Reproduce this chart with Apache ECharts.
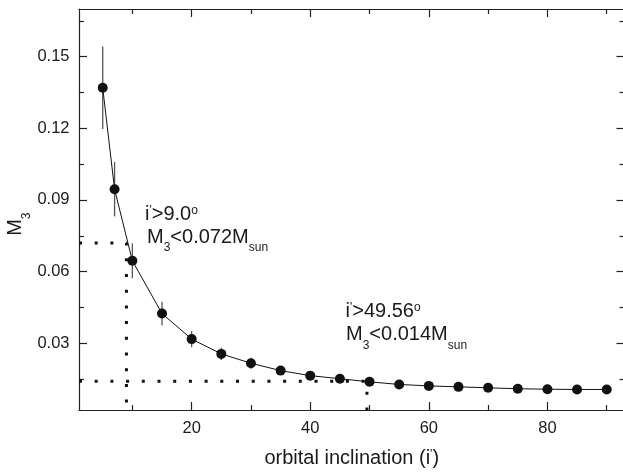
<!DOCTYPE html>
<html>
<head>
<meta charset="utf-8">
<script src="https://cdn.jsdelivr.net/npm/echarts@6/dist/echarts.min.js"></script>
<style>
  html, body { margin: 0; padding: 0; background: #fff; }
  #chart { width: 623px; height: 472px; }
</style>
</head>
<body>
<div id="chart"></div>
<script>
// Orbital inclination (deg) of each solution
const incl = [5, 7, 10, 15, 20, 25, 30, 35, 40, 45, 50, 55, 60, 65, 70, 75, 80, 85, 90];
// Third-body mass M3 (solar masses) and its 1-sigma uncertainty
const mass = [0.137, 0.0945, 0.0645, 0.0424, 0.0317, 0.0255, 0.0216, 0.0185, 0.0164, 0.0151,
              0.0138, 0.0127, 0.0121, 0.0117, 0.0113, 0.0109, 0.0107, 0.0106, 0.0106];
const massErr = [0.0173, 0.0114, 0.0073, 0.005, 0.0034, 0.0026, 0.0023, 0.0018, 0.0015, 0.0013,
                 0.0012, 0.0011, 0.001, 0.001, 0.0009, 0.0009, 0.0009, 0.0008, 0.0008];

// Limits quoted in the annotations
const limitIncl = [9.0, 49.56];
const limitMass = [0.072, 0.014];

// Axis ranges and ticks
const X_MIN = 1, X_MAX = 93;
const Y_MIN = 0.002, Y_MAX = 0.17;
const xMajor = [20, 40, 60, 80];
const xMinor = [10, 30, 50, 70, 90];
const yMajor = [0.03, 0.06, 0.09, 0.12, 0.15];
const yMinor = [0.015, 0.045, 0.075, 0.105, 0.135, 0.165];

const FONT = '"Liberation Sans", Arial, Helvetica, sans-serif';
const INK = '#1a1a1a';
const AXIS = '#222';

const chart = echarts.init(document.getElementById('chart'), null, { renderer: 'canvas' });

function makeAxis(kind, position, ticks, tickLen, withLine, withLabels) {
  const ax = {
    type: 'value',
    position: position,
    min: kind === 'x' ? X_MIN : Y_MIN,
    max: kind === 'x' ? X_MAX : Y_MAX,
    splitLine: { show: false },
    axisLine: { show: withLine, onZero: false, lineStyle: { color: AXIS, width: 1.2 } },
    axisTick: { show: true, inside: true, length: tickLen, customValues: ticks,
                lineStyle: { color: AXIS, width: 1.2 } },
    axisLabel: { show: withLabels },
    axisPointer: { show: false },
    silent: true
  };
  if (withLabels) {
    ax.axisLabel = {
      show: true, customValues: ticks, margin: 9.5,
      fontFamily: FONT, fontSize: 16.5, color: INK,
      formatter: kind === 'y' ? (v) => v.toFixed(2) : (v) => String(v)
    };
  }
  return ax;
}

const xAxes = [
  makeAxis('x', 'bottom', xMajor, 8, true, true),
  makeAxis('x', 'bottom', xMinor, 5, false, false),
  makeAxis('x', 'top', xMajor, 8, true, false),
  makeAxis('x', 'top', xMinor, 5, false, false)
];
xAxes[0].name = '{t|orbital inclination (i}{p|\'}{t|)}';
xAxes[0].nameLocation = 'middle';
xAxes[0].nameGap = 38.8;
xAxes[0].nameTextStyle = {
  fontFamily: FONT, fontSize: 20, color: INK,
  rich: {
    t: { fontFamily: FONT, fontSize: 20, color: INK, verticalAlign: 'top' },
    p: { fontFamily: FONT, fontSize: 12, color: INK, verticalAlign: 'top' }
  }
};

const yAxes = [
  makeAxis('y', 'left', yMajor, 8, true, true),
  makeAxis('y', 'left', yMinor, 5, false, false),
  makeAxis('y', 'right', yMajor, 8, true, false),
  makeAxis('y', 'right', yMinor, 5, false, false)
];

// Rich styles for graphic text (zrender style keys)
const richG = {
  t: { fontFamily: FONT, fontSize: 20, fill: INK, verticalAlign: 'top' },
  sup: { fontFamily: FONT, fontSize: 12, fill: INK, verticalAlign: 'top' },
  sub: { fontFamily: FONT, fontSize: 12, fill: INK, verticalAlign: 'top', padding: [15, 0, 0, 0] }
};

function gText(x, y, text, rotation) {
  return {
    type: 'text', x: x, y: y, rotation: rotation || 0, silent: true,
    style: { x: 0, y: 0, text: text, rich: richG, align: 'left', verticalAlign: 'top',
             fontFamily: FONT, fontSize: 20, fill: INK }
  };
}

const guideStyle = { color: '#111', width: 3, type: [3, 12.7], cap: 'butt' };

function guide(ix) {
  return {
    type: 'line', symbol: 'none', clip: false, silent: true, z: 2,
    lineStyle: guideStyle,
    data: [[X_MIN, limitMass[ix]], [limitIncl[ix], limitMass[ix]], [limitIncl[ix], Y_MIN]]
  };
}

chart.setOption({
  animation: false,
  backgroundColor: '#fff',
  // the frame's right edge sits just past the canvas border
  grid: { left: 79, top: 9, right: -1.5, bottom: 62, outerBoundsMode: 'none' },
  xAxis: xAxes,
  yAxis: yAxes,
  graphic: [
    // y-axis title M3, reading bottom to top
    gText(5.8, 235.8, '{t|M}{sub|3}', Math.PI / 2),
    // upper limit for i = 9.0 deg
    gText(145, 204.8, '{t|i}{sup|\'}{t|>' + limitIncl[0].toFixed(1) + '}{sup|o}'),
    gText(147, 227.1, '{t|M}{sub|3}{t|<' + limitMass[0].toFixed(3) + 'M}{sub|sun}'),
    // upper limit for i = 49.56 deg
    gText(345.5, 301.4, '{t|i}{sup|\'}{t|>' + limitIncl[1].toFixed(2) + '}{sup|o}'),
    gText(346, 324.8, '{t|M}{sub|3}{t|<' + limitMass[1].toFixed(3) + 'M}{sub|sun}')
  ],
  series: [
    guide(0),
    guide(1),
    {
      type: 'custom', z: 3, silent: true,
      data: incl.map((x, i) => [x, mass[i] - massErr[i], mass[i] + massErr[i]]),
      encode: { x: 0, y: [1, 2] },
      renderItem: function (params, api) {
        const lo = api.coord([api.value(0), api.value(1)]);
        const hi = api.coord([api.value(0), api.value(2)]);
        return {
          type: 'line',
          shape: { x1: lo[0], y1: lo[1], x2: hi[0], y2: hi[1] },
          style: { stroke: '#555', lineWidth: 1.3 }
        };
      }
    },
    {
      type: 'line', z: 4, silent: true,
      data: incl.map((x, i) => [x, mass[i]]),
      symbol: 'circle', symbolSize: 10,
      itemStyle: { color: '#111' },
      lineStyle: { color: '#111', width: 1 },
      emphasis: { disabled: true }
    }
  ]
});
</script>
</body>
</html>
